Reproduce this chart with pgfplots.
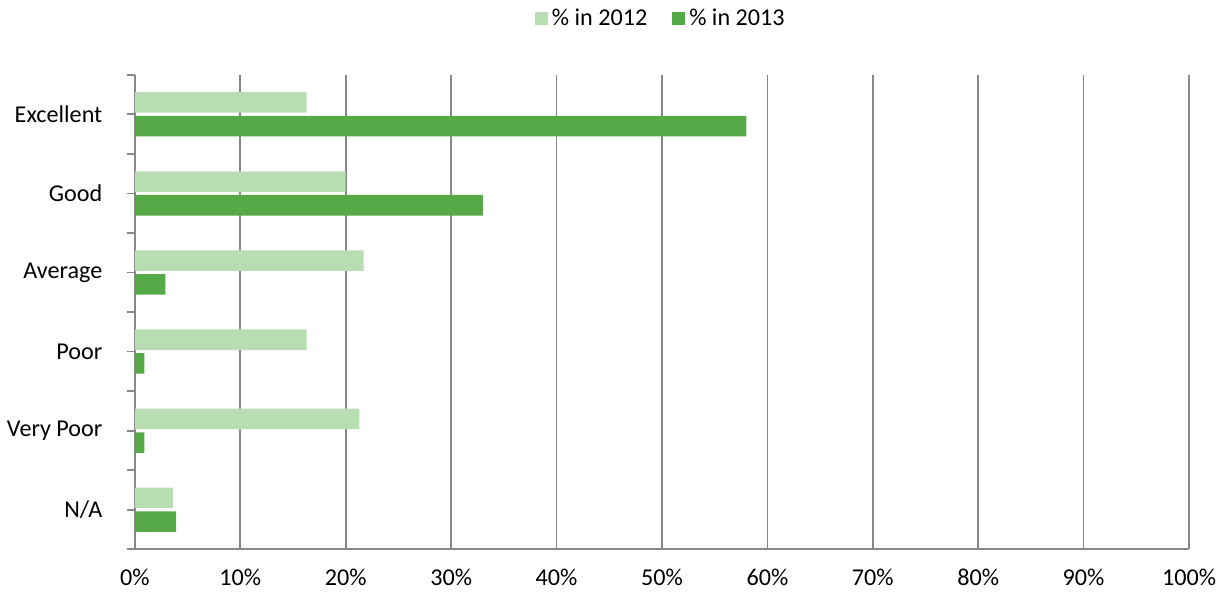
\documentclass[border=0pt]{standalone}
\usepackage{fontspec}
\setmainfont{Carlito}
\usepackage{pgfplots}
\pgfplotsset{compat=1.18}
\definecolor{gA}{HTML}{B8DDB2}
\definecolor{gB}{HTML}{55AA47}
\definecolor{gridc}{HTML}{888888}
\begin{document}
\begin{tikzpicture}
\begin{axis}[
  scale only axis, width=502pt, height=226pt,
  xbar, y dir=reverse,
  xmin=0, xmax=100, ymin=-0.5, ymax=5.5,
  xtick={0,10,...,100},
  xticklabel={\pgfmathprintnumber{\tick}\%},
  /pgf/number format/assume math mode=true,
  ytick={-0.5,0.5,...,5.5},
  yticklabels={},
  ytick style={draw=gridc, line width=0.8pt},
  tick align=outside, major tick length=4pt,
  extra y ticks={0,...,5},
  extra y tick labels={Excellent,Good,Average,Poor,Very Poor,N/A},
  extra y tick style={tick style={draw=none}},
  xtick style={draw=none},
  xmajorgrids, grid style={gridc, line width=0.8pt},
  axis line style={gridc, line width=0.8pt},
  axis x line*=bottom, axis y line*=left,
  tick label style={font=\fontsize{11.5}{13}\selectfont, black},
  yticklabel style={xshift=-8pt},
  xticklabel style={yshift=-2pt},
  legend style={at={(0.5,1.0)}, anchor=south, yshift=18pt, draw=none, legend columns=2, font=\fontsize{11.5}{13}\selectfont, /tikz/every even column/.append style={column sep=10pt}},
  legend image code/.code={\fill[#1] (0pt,-3pt) rectangle (6pt,3pt);},
]
\addplot[fill=gA, draw=none, bar width=0.26, bar shift=-0.15] coordinates {(16.3,0) (20,1) (21.7,2) (16.3,3) (21.3,4) (3.6,5)};
\addplot[fill=gB, draw=none, bar width=0.26, bar shift=0.15] coordinates {(58,0) (33,1) (2.9,2) (0.9,3) (0.9,4) (3.9,5)};
\legend{\% in 2012, \% in 2013}
\end{axis}
\end{tikzpicture}
\end{document}
